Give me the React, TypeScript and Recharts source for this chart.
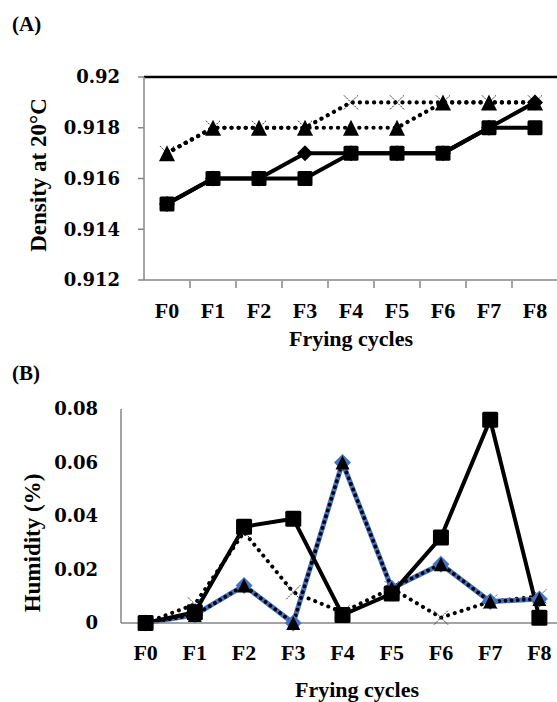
import { Line, LineChart, ReferenceLine, XAxis, YAxis } from 'recharts'

const cycles = ['F0', 'F1', 'F2', 'F3', 'F4', 'F5', 'F6', 'F7', 'F8']

// (A) density at 20°C
const densityDiamond = [0.915, 0.916, 0.916, 0.917, 0.917, 0.917, 0.917, 0.918, 0.919]
const densitySquare = [0.915, 0.916, 0.916, 0.916, 0.917, 0.917, 0.917, 0.918, 0.918]
const densityTriangle = [0.917, 0.918, 0.918, 0.918, 0.918, 0.918, 0.919, 0.919, 0.919]
const densityCross = [0.917, 0.918, 0.918, 0.918, 0.919, 0.919, 0.919, 0.919, 0.919]
const densityTicks = [0.912, 0.914, 0.916, 0.918, 0.92]

// (B) humidity (%)
const humiditySquare = [0, 0.004, 0.036, 0.039, 0.003, 0.011, 0.032, 0.076, 0.002]
const humidityDiamond = [0, 0.003, 0.014, 0, 0.06, 0.013, 0.022, 0.008, 0.009]
const humidityTriangle = [0, 0.003, 0.014, 0, 0.06, 0.013, 0.022, 0.008, 0.009]
const humidityCross = [0, 0.007, 0.034, 0.0115, 0.004, 0.013, 0.002, 0.008, 0.01]
const humidityTicks = [0, 0.02, 0.04, 0.06, 0.08]

const densityData = cycles.map((c, i) => ({
  cycle: c,
  diamond: densityDiamond[i],
  square: densitySquare[i],
  triangle: densityTriangle[i],
  cross: densityCross[i],
}))

const humidityData = cycles.map((c, i) => ({
  cycle: c,
  square: humiditySquare[i],
  diamond: humidityDiamond[i],
  triangle: humidityTriangle[i],
  cross: humidityCross[i],
}))

const SERIF = '"Liberation Serif", "Times New Roman", serif'
const NUM_FONT = '"DejaVu Serif", serif'
const BLUE = '#4472C4'
const AXIS = '#868686'
const DOTS = '0.1 7'

// half of one category band (excel puts points in the middle of each band)
const HALF_A = 414 / cycles.length / 2
const HALF_B = 443 / cycles.length / 2

const square = (size: number, fill: string) => (p: any) => {
  if (p.cx == null || p.cy == null) return <g key={p.index} />
  return <rect key={p.index} x={p.cx - size / 2} y={p.cy - size / 2} width={size} height={size} rx={1.5} fill={fill} />
}

const diamond = (size: number, fill: string) => (p: any) => {
  if (p.cx == null || p.cy == null) return <g key={p.index} />
  const r = size / 2
  return (
    <polygon
      key={p.index}
      points={`${p.cx},${p.cy - r} ${p.cx + r},${p.cy} ${p.cx},${p.cy + r} ${p.cx - r},${p.cy}`}
      fill={fill}
    />
  )
}

const triangle = (size: number, fill: string) => (p: any) => {
  if (p.cx == null || p.cy == null) return <g key={p.index} />
  const r = size / 2
  return (
    <polygon
      key={p.index}
      points={`${p.cx},${p.cy - r} ${p.cx + r},${p.cy + r} ${p.cx - r},${p.cy + r}`}
      fill={fill}
    />
  )
}

const cross = (size: number) => (p: any) => {
  if (p.cx == null || p.cy == null) return <g key={p.index} />
  const r = size / 2
  return (
    <g key={p.index} stroke="#333" strokeWidth={1} strokeDasharray="2 1">
      <line x1={p.cx - r} y1={p.cy - r} x2={p.cx + r} y2={p.cy + r} />
      <line x1={p.cx - r} y1={p.cy + r} x2={p.cx + r} y2={p.cy - r} />
    </g>
  )
}

// category labels with Excel-style tick marks between the categories
function BandTick(props: any) {
  const { x, y, payload } = props
  return (
    <g>
      <line x1={x + HALF_A} x2={x + HALF_A} y1={y} y2={y + 7} stroke={AXIS} strokeWidth={1.5} />
      <text x={x} y={y + 21} dy="0.71em" textAnchor="middle" fontFamily={SERIF} fontWeight="bold" fontSize={22} fill="#000">
        {payload.value}
      </text>
    </g>
  )
}

const label = (style: React.CSSProperties, text: string) => (
  <div style={{ position: 'absolute', fontFamily: SERIF, fontWeight: 'bold', color: '#000', whiteSpace: 'nowrap', lineHeight: 1, ...style }}>
    {text}
  </div>
)

export default function App() {
  return (
    <div style={{ position: 'relative', width: 557, height: 702, overflow: 'hidden', background: '#fff' }}>
      <style>{'body{margin:0}'}</style>

      {label({ left: 12, top: 14, fontSize: 21 }, '(A)')}
      {label({ left: 38, top: 175, fontSize: 23, transform: 'translate(-50%, -50%) rotate(-90deg)' }, 'Density at 20°C')}
      {label({ left: 251, width: 200, top: 328, fontSize: 22, textAlign: 'center' }, 'Frying cycles')}

      {label({ left: 12, top: 363, fontSize: 21 }, '(B)')}
      {label({ left: 32, top: 543, fontSize: 23, transform: 'translate(-50%, -50%) rotate(-90deg)' }, 'Humidity (%)')}
      {label({ left: 257, width: 200, top: 679, fontSize: 22, textAlign: 'center' }, 'Frying cycles')}

      <div style={{ position: 'absolute', left: 0, top: 0 }}>
        <LineChart width={570} height={360} data={densityData} margin={{ top: 77, right: 12, bottom: 0, left: 0 }}>
          <XAxis
            dataKey="cycle"
            height={80}
            padding={{ left: HALF_A, right: HALF_A }}
            stroke={AXIS}
            strokeWidth={1.5}
            tickLine={false}
            tickSize={0}
            tickMargin={1}
            tick={<BandTick />}
            interval={0}
          />
          <YAxis
            width={144}
            domain={[0.912, 0.92]}
            ticks={densityTicks}
            stroke={AXIS}
            strokeWidth={1.5}
            tickSize={6}
            tickMargin={18}
            tick={{ fontFamily: NUM_FONT, fontWeight: 'bold', fontSize: 18, fill: '#000' }}
            allowDataOverflow
          />
          <ReferenceLine y={0.92} stroke="#000" strokeWidth={2.5} />
          <Line dataKey="cross" stroke="#000" strokeWidth={4.2} strokeDasharray={DOTS} strokeLinecap="round" dot={cross(14)} activeDot={false} isAnimationActive={false} />
          <Line dataKey="triangle" stroke="#000" strokeWidth={4.2} strokeDasharray={DOTS} strokeLinecap="round" dot={triangle(16, '#000')} activeDot={false} isAnimationActive={false} />
          <Line dataKey="diamond" stroke="#000" strokeWidth={4} dot={diamond(16, '#000')} activeDot={false} isAnimationActive={false} />
          <Line dataKey="square" stroke="#000" strokeWidth={4} dot={square(15, '#000')} activeDot={false} isAnimationActive={false} />
        </LineChart>
      </div>

      <div style={{ position: 'absolute', left: 0, top: 340 }}>
        <LineChart width={577} height={362} data={humidityData} margin={{ top: 69, right: 13, bottom: 0, left: 0 }}>
          <XAxis
            dataKey="cycle"
            height={79}
            padding={{ left: HALF_B, right: HALF_B }}
            stroke={AXIS}
            strokeWidth={1.5}
            tickLine={false}
            tickSize={0}
            tickMargin={21}
            interval={0}
            tick={{ fontFamily: SERIF, fontWeight: 'bold', fontSize: 22, fill: '#000' }}
          />
          <YAxis
            width={121}
            domain={[0, 0.08]}
            ticks={humidityTicks}
            stroke={AXIS}
            strokeWidth={1.5}
            tickLine={false}
            tickSize={0}
            tickMargin={23}
            tick={{ fontFamily: NUM_FONT, fontWeight: 'bold', fontSize: 18, fill: '#000' }}
          />
          <Line dataKey="cross" stroke="#000" strokeWidth={4} strokeDasharray={DOTS} strokeLinecap="round" dot={cross(14)} activeDot={false} isAnimationActive={false} />
          <Line dataKey="diamond" stroke={BLUE} strokeWidth={5} dot={diamond(17, BLUE)} activeDot={false} isAnimationActive={false} />
          <Line dataKey="triangle" stroke="#000" strokeWidth={3.8} strokeDasharray="0.1 6" strokeLinecap="round" dot={triangle(14, '#000')} activeDot={false} isAnimationActive={false} />
          <Line dataKey="square" stroke="#000" strokeWidth={4} dot={square(16, '#000')} activeDot={false} isAnimationActive={false} />
        </LineChart>
      </div>
    </div>
  )
}
